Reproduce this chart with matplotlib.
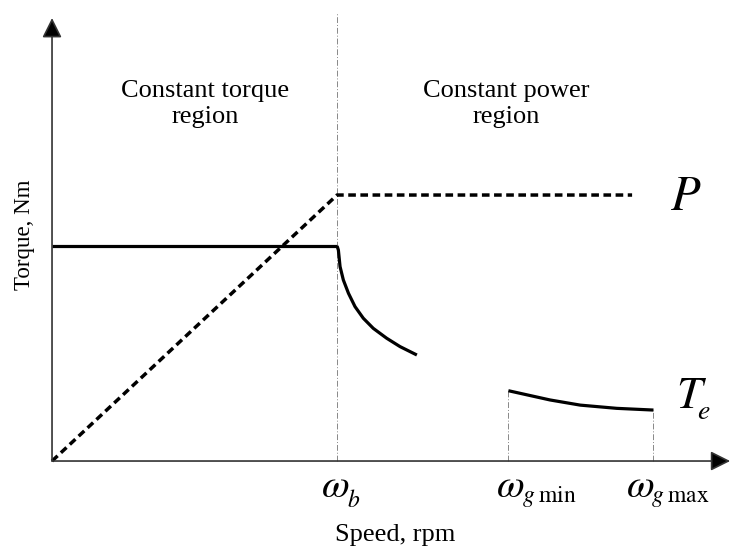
import matplotlib
matplotlib.use("Agg")
import matplotlib.pyplot as plt

plt.rcParams['font.family'] = ['Liberation Serif', 'DejaVu Serif']
plt.rcParams['mathtext.fontset'] = 'stix'

# Data (normalized units: speed / omega_b, torque / rated torque)
w_b = 1.0
w_gmin = 1.60
w_gmax = 2.11
p_end = 2.035
p_level = 1.237

power_x = [0.0, w_b, p_end]
power_y = [0.0, p_level, p_level]

te_const_x = [0.0, w_b]
te_const_y = [1.0, 1.0]

te_fw_x = [1.0, 1.0046, 1.0105, 1.022, 1.040, 1.063, 1.092, 1.127, 1.174, 1.221, 1.280]
te_fw_y = [1.0, 0.981, 0.904, 0.842, 0.780, 0.718, 0.664, 0.617, 0.571, 0.532, 0.493]

te_hi_x = [1.601, 1.747, 1.853, 1.981, 2.110]
te_hi_y = [0.327, 0.284, 0.260, 0.245, 0.237]

x_axis_end = 2.379
y_axis_end = 2.06

fig = plt.figure(figsize=(7.33, 5.58), dpi=100)
ax = fig.add_axes([0, 0, 1, 1])
ax.set_xlim(-0.1825, 2.389)
ax.set_ylim(-0.451, 2.144)
ax.set_axis_off()

# axes arrows
axis_col = '#333333'
for xy in [(x_axis_end, 0), (0, y_axis_end)]:
    ax.annotate('', xy=xy, xytext=(0, 0),
                arrowprops=dict(arrowstyle='-|>', mutation_scale=30, lw=1.2,
                                color=axis_col, fc='black', shrinkA=0, shrinkB=0))

# reference lines
ref = dict(color='#888888', lw=0.7, ls=(0, (6, 2, 1, 2)))
ax.plot([w_b, w_b], [0, 2.088], **ref)
ax.plot([w_gmin, w_gmin], [0, te_hi_y[0]], **ref)
ax.plot([w_gmax, w_gmax], [0, te_hi_y[-1]], **ref)

# curves
ax.plot(power_x, power_y, color='black', lw=2.5, ls=(0, (2.2, 1.3)))
ax.plot(te_const_x, te_const_y, color='black', lw=2.3, solid_capstyle='butt')
ax.plot(te_fw_x, te_fw_y, color='black', lw=2.3, solid_capstyle='butt',
        solid_joinstyle='round')
ax.plot(te_hi_x, te_hi_y, color='black', lw=2.3, solid_capstyle='butt',
        solid_joinstyle='round')

# texts
fs = 19
ax.text(0.537, 1.662, 'Constant torque\nregion', ha='center', va='center',
        fontsize=fs, linespacing=1.25)
ax.text(1.593, 1.662, 'Constant power\nregion', ha='center', va='center',
        fontsize=fs, linespacing=1.25)
ax.text(-0.095, 1.051, 'Torque, Nm', rotation=90, ha='center', va='center', fontsize=16.5)
ax.text(1.204, -0.344, 'Speed, rpm', ha='center', va='center', fontsize=fs)

# omega labels: big omega + smaller, lower subscript
def px2x(px):
    return (px - 52) / 285.0

def py2y(py):
    return (461 - py) / 215.0

om_fs = 29
sub_fs = 17
ax.text(px2x(321), py2y(497), r'$\omega$', ha='left', va='baseline', fontsize=om_fs)
ax.text(px2x(347), py2y(507), r'$b$', ha='left', va='baseline', fontsize=sub_fs)
ax.text(px2x(496), py2y(497), r'$\omega$', ha='left', va='baseline', fontsize=om_fs)
ax.text(px2x(522), py2y(502), r'$g\;\mathrm{min}$', ha='left', va='baseline', fontsize=sub_fs)
ax.text(px2x(626), py2y(497), r'$\omega$', ha='left', va='baseline', fontsize=om_fs)
ax.text(px2x(651), py2y(502), r'$g\;\mathrm{max}$', ha='left', va='baseline', fontsize=sub_fs)

ax.text(px2x(670), py2y(210), r'$P$', ha='left', va='baseline', fontsize=35)
ax.text(px2x(676), py2y(408), r'$T$', ha='left', va='baseline', fontsize=33)
ax.text(px2x(697), py2y(419), r'$e$', ha='left', va='baseline', fontsize=20)

fig.savefig('out.png', dpi=100)
